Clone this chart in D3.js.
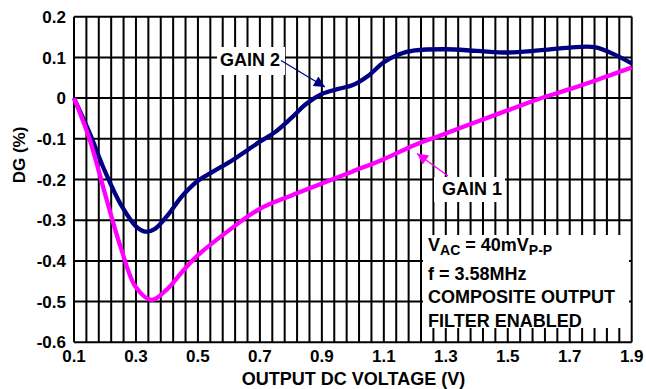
<html>
<head>
  <meta charset="utf-8">
  <style>
    body { margin: 0; background: #fff; }
    text { font-family: "Liberation Sans", Arial, sans-serif; font-weight: bold; fill: #000; }
  </style>
</head>
<body>
  <svg></svg>
  <script src="https://d3js.org/d3.v7.min.js"></script>
  <script>
    // readings from the plot
    let voltGain1 = [0.1, 0.15, 0.2, 0.25, 0.3, 0.35, 0.4, 0.45, 0.5, 0.6, 0.7, 0.8, 0.9, 1.0, 1.1, 1.2, 1.3, 1.4, 1.5, 1.6, 1.7, 1.8, 1.9]
    let dgGain1 = [0, -0.10, -0.235, -0.365, -0.465, -0.496, -0.47, -0.426, -0.386, -0.325, -0.272, -0.24, -0.21, -0.18, -0.15, -0.115, -0.087, -0.058, -0.03, -0.002, 0.022, 0.048, 0.075]

    let voltGain2 = [0.1, 0.15, 0.2, 0.25, 0.3, 0.33, 0.36, 0.4, 0.45, 0.5, 0.55, 0.6, 0.7, 0.75, 0.8, 0.85, 0.9, 0.95, 1.0, 1.05, 1.1, 1.15, 1.2, 1.3, 1.4, 1.5, 1.6, 1.7, 1.78, 1.85, 1.9]
    let dgGain2 = [0, -0.085, -0.18, -0.26, -0.315, -0.328, -0.322, -0.29, -0.24, -0.203, -0.18, -0.158, -0.107, -0.083, -0.05, -0.014, 0.01, 0.022, 0.032, 0.055, 0.088, 0.108, 0.117, 0.12, 0.116, 0.112, 0.117, 0.124, 0.125, 0.105, 0.085]

    let xTicks = [0.1, 0.3, 0.5, 0.7, 0.9, 1.1, 1.3, 1.5, 1.7, 1.9]
    let yTicks = [0.2, 0.1, 0, -0.1, -0.2, -0.3, -0.4, -0.5, -0.6]
    let noteLines = ["f = 3.58MHz", "COMPOSITE OUTPUT", "FILTER ENABLED"]

    let width = 646, height = 389
    let margin = {left: 74, right: 14.3, top: 16.7, bottom: 46.7}

    let svg = d3.select("svg")
        .attr("width", width)
        .attr("height", height)

    let x = d3.scaleLinear().domain([0.1, 1.9]).range([margin.left, width - margin.right])
    let y = d3.scaleLinear().domain([-0.6, 0.2]).range([height - margin.bottom, margin.top])

    // grid: vertical every 0.04 V, horizontal every 0.1 %
    let grid = svg.append("g").attr("stroke", "#000").attr("stroke-width", 2)
    grid.selectAll(".v")
        .data(d3.range(0, 46).map(i => 0.1 + i * 0.04))
        .enter().append("line")
        .attr("x1", d => x(d)).attr("x2", d => x(d))
        .attr("y1", y(0.2)).attr("y2", y(-0.6))
    grid.selectAll(".h")
        .data(yTicks)
        .enter().append("line")
        .attr("x1", x(0.1)).attr("x2", x(1.9))
        .attr("y1", d => y(d)).attr("y2", d => y(d))

    // tick labels
    svg.append("g").selectAll("text")
        .data(yTicks)
        .enter().append("text")
        .attr("x", 66)
        .attr("y", d => y(d))
        .attr("dy", "0.36em")
        .attr("text-anchor", "end")
        .style("font-size", "17px")
        .text(d => d3.format("")(d).replace("−", "-"))

    svg.append("g").selectAll("text")
        .data(xTicks)
        .enter().append("text")
        .attr("x", d => x(d))
        .attr("y", 362)
        .attr("text-anchor", "middle")
        .style("font-size", "17px")
        .text(d => d3.format(".1f")(d))

    // axis titles
    svg.append("text")
        .attr("x", 353.5)
        .attr("y", 385)
        .attr("text-anchor", "middle")
        .style("font-size", "18px")
        .text("OUTPUT DC VOLTAGE (V)")

    svg.append("text")
        .attr("transform", "translate(25,155) rotate(-90)")
        .attr("text-anchor", "middle")
        .style("font-size", "17px")
        .text("DG (%)")

    // note box
    svg.append("rect")
        .attr("x", 423).attr("y", 235)
        .attr("width", 206).attr("height", 93)
        .attr("fill", "#fff")

    let vac = svg.append("text").attr("x", 428).attr("y", 251).style("font-size", "18px")
    vac.append("tspan").text("V")
    vac.append("tspan").attr("dy", 4).style("font-size", "14px").text("AC")
    vac.append("tspan").attr("dy", -4).text(" = 40mV")
    vac.append("tspan").attr("dy", 4).style("font-size", "14px").text("P-P")

    svg.append("g").selectAll("text")
        .data(noteLines)
        .enter().append("text")
        .attr("x", 428)
        .attr("y", (d, i) => 280 + i * 23.4)
        .style("font-size", "18px")
        .text(d => d)

    // curves
    let line = d3.line()
        .x(d => x(d[0]))
        .y(d => y(d[1]))
        .curve(d3.curveCatmullRom.alpha(0.5))

    svg.append("path")
        .datum(voltGain2.map((v, i) => [v, dgGain2[i]]))
        .attr("d", line)
        .attr("fill", "none")
        .attr("stroke", "#000080")
        .attr("stroke-width", 4.3)

    svg.append("path")
        .datum(voltGain1.map((v, i) => [v, dgGain1[i]]))
        .attr("d", line)
        .attr("fill", "none")
        .attr("stroke", "#ff00ff")
        .attr("stroke-width", 4.3)

    // callouts
    let defs = svg.append("defs")
    function marker(id, color) {
      defs.append("marker")
          .attr("id", id)
          .attr("viewBox", "0 0 10 10")
          .attr("refX", 10).attr("refY", 5)
          .attr("markerWidth", 18).attr("markerHeight", 11)
          .attr("markerUnits", "userSpaceOnUse")
          .attr("orient", "auto")
          .append("path")
          .attr("d", "M0,0 L10,5 L0,10 Z")
          .attr("fill", color)
    }
    marker("arrow2", "#000080")
    marker("arrow1", "#ff00ff")

    svg.append("rect").attr("x", 217).attr("y", 47).attr("width", 68).attr("height", 28).attr("fill", "#fff")
    svg.append("text").attr("x", 220).attr("y", 66).style("font-size", "18px").text("GAIN 2")
    svg.append("line")
        .attr("x1", 281).attr("y1", 60.5)
        .attr("x2", 325).attr("y2", 87)
        .attr("stroke", "#000080").attr("stroke-width", 1.3)
        .attr("marker-end", "url(#arrow2)")

    svg.append("rect").attr("x", 434).attr("y", 177).attr("width", 71).attr("height", 25).attr("fill", "#fff")
    svg.append("text").attr("x", 442).attr("y", 195).style("font-size", "18px").text("GAIN 1")
    svg.append("line")
        .attr("x1", 448).attr("y1", 176)
        .attr("x2", 417).attr("y2", 153.5)
        .attr("stroke", "#ff00ff").attr("stroke-width", 1.3)
        .attr("marker-end", "url(#arrow1)")
  </script>
</body>
</html>
